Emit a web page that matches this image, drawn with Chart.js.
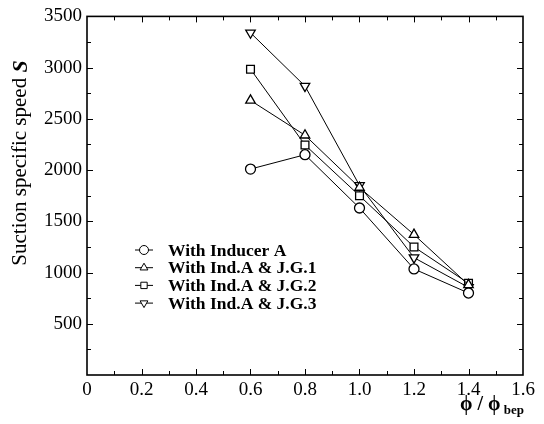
<!DOCTYPE html>
<html>
<head>
<meta charset="utf-8">
<script src="https://cdn.jsdelivr.net/npm/chart.js@4/dist/chart.umd.min.js"></script>
<style>
  html, body { margin: 0; padding: 0; background: #fff; }
  #wrap { width: 544px; height: 424px; }
</style>
</head>
<body>
<div id="wrap"><canvas id="chart"></canvas></div>
<script>
// flow rate ratio phi / phi_bep
let flowRatio = [0.6, 0.8, 1.0, 1.2, 1.4];

// suction specific speed S
let inducerA = [2010, 2150, 1630, 1035, 800];
let jg1      = [2680, 2340, 1830, 1370, 880];
let jg2      = [2985, 2245, 1750, 1250, 895];
let jg3      = [3340, 2820, 1850, 1145, 855];

let seriesLabels = ['With Inducer A', 'With Ind.A & J.G.1', 'With Ind.A & J.G.2', 'With Ind.A & J.G.3'];

let serif = "'Liberation Serif', 'DejaVu Serif', serif";

function makeSet(label, values, style, rot) {
	return {
		label            : label,
		data             : flowRatio.map((x, i) => ({ x: x, y: values[i] })),
		borderColor      : '#000',
		borderWidth      : 1,
		backgroundColor  : '#fff',
		pointStyle       : style,
		pointRotation    : rot,
		pointRadius      : style === 'circle' ? 5 : 5.5,
		pointBorderWidth : 1.3,
		pointBorderColor : '#000',
		pointBackgroundColor : '#fff',
		tension          : 0
	};
}

// ticks drawn inward, frame, titles and legend inside the plot
let decor = {
	id : 'decor',
	afterDraw(chart) {
		let ctx = chart.ctx, a = chart.chartArea;
		let xs = chart.scales.x, ys = chart.scales.y;
		ctx.save();
		ctx.strokeStyle = '#000';
		ctx.lineWidth = 1;
		for (let v = 0.1; v < 1.6; v += 0.1) {
			let px = Math.round(xs.getPixelForValue(v)) + 0.5;
			let len = Math.abs(Math.round(v * 10) % 2) === 0 ? 6 : 4;
			ctx.beginPath();
			ctx.moveTo(px, a.bottom); ctx.lineTo(px, a.bottom - len);
			ctx.moveTo(px, a.top); ctx.lineTo(px, a.top + len);
			ctx.stroke();
		}
		for (let v = 250; v < 3500; v += 250) {
			let py = Math.round(ys.getPixelForValue(v)) + 0.5;
			let len = v % 500 === 0 ? 6 : 4;
			ctx.beginPath();
			ctx.moveTo(a.left, py); ctx.lineTo(a.left + len, py);
			ctx.moveTo(a.right, py); ctx.lineTo(a.right - len, py);
			ctx.stroke();
		}
		ctx.lineWidth = 1.6;
		ctx.strokeRect(a.left, a.top, a.right - a.left, a.bottom - a.top);

		// y title
		ctx.fillStyle = '#000';
		ctx.translate(20, 163);
		ctx.rotate(-Math.PI / 2);
		ctx.textBaseline = 'middle';
		let t1 = 'Suction specific speed ';
		ctx.font = '21px ' + serif;
		let w1 = ctx.measureText(t1).width;
		ctx.font = 'italic bold 22px ' + serif;
		let w2 = ctx.measureText('S').width;
		let sx = -(w1 + w2) / 2;
		ctx.font = '21px ' + serif;
		ctx.textAlign = 'left';
		ctx.fillText(t1, sx, 0);
		ctx.font = 'italic bold 22px ' + serif;
		ctx.fillText('S', sx + w1, 1);
		ctx.setTransform(1, 0, 0, 1, 0, 0);

		// x title
		ctx.textAlign = 'left';
		ctx.textBaseline = 'alphabetic';
		ctx.font = 'bold 20px ' + serif;
		let xt = '\u03D5 / \u03D5';
		let xw = ctx.measureText(xt).width;
		ctx.font = 'bold 13px ' + serif;
		let bw = ctx.measureText(' bep').width;
		let x0 = a.right + 1 - xw - bw;
		ctx.font = 'bold 20px ' + serif;
		ctx.fillText(xt, x0, 410);
		ctx.font = 'bold 13px ' + serif;
		ctx.fillText(' bep', x0 + xw, 414);

		// legend
		chart.data.datasets.forEach((ds, i) => {
			let y = 250 + i * 17.7;
			ctx.lineWidth = 1;
			ctx.beginPath();
			ctx.moveTo(135, y); ctx.lineTo(153, y);
			ctx.stroke();
			ctx.fillStyle = '#fff';
			Chart.helpers.drawPoint(ctx, {
				pointStyle  : ds.pointStyle,
				rotation    : ds.pointRotation,
				radius      : 4.5,
				borderWidth : 1.2
			}, 144, y);
			ctx.fillStyle = '#000';
			ctx.font = 'bold 17.5px ' + serif;
			ctx.textBaseline = 'middle';
			ctx.fillText(ds.label, 168, y + 1);
		});
		ctx.restore();
	}
};

new Chart(document.getElementById('chart').getContext('2d'), {
	type : 'line',
	data : {
		datasets : [
			makeSet(seriesLabels[0], inducerA, 'circle', 0),
			makeSet(seriesLabels[1], jg1, 'triangle', 0),
			makeSet(seriesLabels[2], jg2, 'rect', 0),
			makeSet(seriesLabels[3], jg3, 'triangle', 180)
		]
	},
	options : {
		responsive          : true,
		maintainAspectRatio : false,
		animation           : false,
		layout : { padding : { left : 0, right : 21, top : 13, bottom : 0 } },
		plugins : {
			legend  : { display : false },
			tooltip : { enabled : false }
		},
		scales : {
			x : {
				type : 'linear',
				min  : 0,
				max  : 1.6,
				grid : { display : false, drawTicks : false },
				border : { display : false },
				ticks : {
					stepSize : 0.2,
					padding  : 4,
					color    : '#000',
					font     : { family : serif, size : 19 },
					callback : v => (Math.abs(v) < 1e-9 ? '0' : v.toFixed(1))
				},
				afterFit : s => { s.height = 49; }
			},
			y : {
				min  : 0,
				max  : 3500,
				grid : { display : false, drawTicks : false },
				border : { display : false },
				ticks : {
					stepSize : 500,
					padding  : 5,
					color    : '#000',
					font     : { family : serif, size : 19 },
					callback : v => (v === 0 ? '' : v)
				},
				afterFit : s => { s.width = 87; }
			}
		}
	},
	plugins : [decor]
});
</script>
</body>
</html>
